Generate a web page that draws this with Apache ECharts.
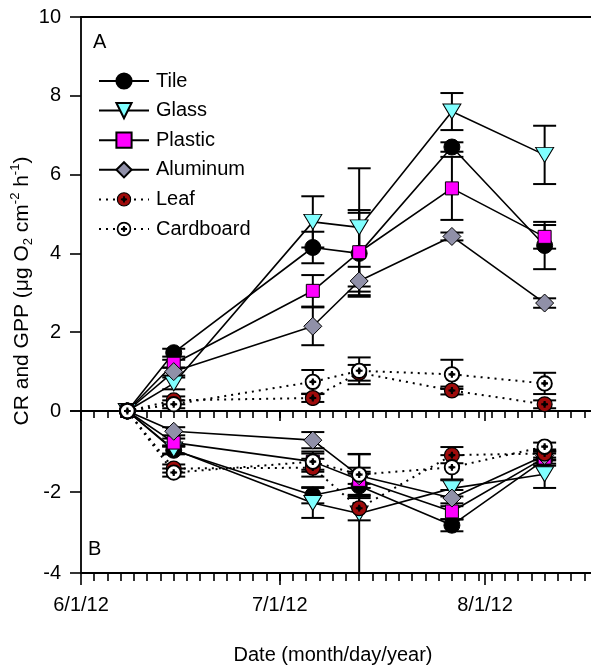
<!DOCTYPE html>
<html>
<head>
<meta charset="utf-8">
<title>CR and GPP by substrate</title>
<script src="https://cdn.jsdelivr.net/npm/echarts@6/dist/echarts.min.js"></script>
<style>
    html, body { margin: 0; padding: 0; background: #fff; }
    #container { width: 591px; height: 668px; }
</style>
</head>
<body>
<div id="container"></div>
<script type="text/javascript">
    // sampling dates and axis ticks
    var sampleDates = ['2012-06-08', '2012-06-15', '2012-07-06', '2012-07-13', '2012-07-27', '2012-08-10'];
    var tickDates = ['2012-06-01', '2012-07-01', '2012-08-01'];
    var tickLabels = ['6/1/12', '7/1/12', '8/1/12'];
    var seriesNames = ['Tile', 'Glass', 'Plastic', 'Aluminum', 'Leaf', 'Cardboard'];

    // panel A : GPP (mean, error)
    var tileGpp = [0, 1.48, 4.15, 4.0, 6.7, 4.2];
    var tileGppErr = [0, 0.1, 0.4, 1.1, 0.12, 0.6];
    var glassGpp = [0, 0.7, 4.8, 4.66, 7.6, 6.5];
    var glassGppErr = [0, 0.15, 0.65, 1.5, 0.47, 0.74];
    var plasticGpp = [0, 1.2, 3.05, 4.03, 5.65, 4.42];
    var plasticGppErr = [0, 0.1, 0.4, 1.0, 0.8, 0.3];
    var aluminumGpp = [0, 1.0, 2.15, 3.3, 4.43, 2.74];
    var aluminumGppErr = [0, 0.1, 0.48, 0.36, 0.1, 0.12];
    var leafGpp = [0, 0.27, 0.33, 0.97, 0.52, 0.17];
    var leafGppErr = [0, 0.1, 0.1, 0.2, 0.1, 0.1];
    var cardboardGpp = [0, 0.17, 0.74, 1.02, 0.93, 0.7];
    var cardboardGppErr = [0, 0.1, 0.3, 0.34, 0.37, 0.27];

    // panel B : CR (mean, error)
    var tileCr = [0, -0.97, -2.08, -1.85, -2.82, -1.2];
    var tileCrErr = [0, 0.1, 0.2, 0.3, 0.15, 0.15];
    var glassCr = [0, -0.95, -2.27, -2.53, -1.91, -1.56];
    var glassCrErr = [0, 0.1, 0.37, 1.47, 0.2, 0.34];
    var plasticCr = [0, -0.78, -1.25, -1.7, -2.48, -1.15];
    var plasticCrErr = [0, 0.1, 0.2, 0.2, 0.2, 0.15];
    var aluminumCr = [0, -0.5, -0.72, -1.6, -2.15, -1.1];
    var aluminumCrErr = [0, 0.1, 0.2, 0.2, 0.2, 0.1];
    var leafCr = [0, -1.42, -1.4, -2.4, -1.09, -1.05];
    var leafCrErr = [0, 0.1, 0.22, 0.3, 0.2, 0.1];
    var cardboardCr = [0, -1.52, -1.25, -1.57, -1.39, -0.88];
    var cardboardCrErr = [0, 0.1, 0.25, 0.5, 0.3, 0.1];

    var FONT = 'Arial, "Liberation Sans", sans-serif';

    function dayOf(s) {
        return Math.round((Date.parse(s) - Date.parse('2012-06-01')) / 86400000);
    }
    var sampleDays = sampleDates.map(dayOf);
    var tickDays = tickDates.map(dayOf);
    var minorDays = [];
    for (var d = 2; d <= 76; d += 2) minorDays.push(d);

    function svgSymbol(svg) {
        return 'image://data:image/svg+xml;charset=utf-8,' + encodeURIComponent(svg);
    }
    var leafSymbol = svgSymbol("<svg xmlns='http://www.w3.org/2000/svg' width='40' height='40' viewBox='0 0 40 40'>" +
        "<circle cx='20' cy='20' r='17.5' fill='#9e0b0b' stroke='#000' stroke-width='3'/>" +
        "<circle cx='20' cy='20' r='5' fill='#000'/>" +
        "<path d='M20 12v16M12 20h16' stroke='#000' stroke-width='5'/></svg>");
    var cardboardSymbol = svgSymbol("<svg xmlns='http://www.w3.org/2000/svg' width='40' height='40' viewBox='0 0 40 40'>" +
        "<circle cx='20' cy='20' r='17' fill='#fff' stroke='#000' stroke-width='4.5'/>" +
        "<circle cx='20' cy='20' r='5' fill='#000'/>" +
        "<path d='M20 12v16M12 20h16' stroke='#000' stroke-width='5'/></svg>");

    // marker look for each material
    var looks = {
        Tile:      { symbol: 'circle', size: 16, color: '#000', rotate: 0, dotted: false },
        Glass:     { symbol: 'triangle', size: [18, 15], color: '#80ffff', rotate: 180, dotted: false },
        Plastic:   { symbol: 'rect', size: 13, color: '#ff00ff', rotate: 0, dotted: false },
        Aluminum:  { symbol: 'diamond', size: 18, color: '#9090a8', rotate: 0, dotted: false },
        Leaf:      { symbol: leafSymbol, size: 17, color: '#9e0b0b', rotate: 0, dotted: true },
        Cardboard: { symbol: cardboardSymbol, size: 17, color: '#fff', rotate: 0, dotted: true }
    };

    function lineSeries(name, vals, xi, yi) {
        var lk = looks[name];
        return {
            name: name,
            type: 'line',
            xAxisIndex: xi,
            yAxisIndex: yi,
            data: sampleDays.map(function (d, i) { return [d, vals[i]]; }),
            symbol: lk.symbol,
            symbolSize: lk.size,
            symbolRotate: lk.rotate,
            showAllSymbol: true,
            clip: false,
            itemStyle: { color: lk.color, borderColor: '#000', borderWidth: 1, opacity: 1 },
            lineStyle: { color: '#000', width: lk.dotted ? 2 : 1.6, type: lk.dotted ? [2, 5] : 'solid' },
            emphasis: { disabled: true },
            z: 3
        };
    }

    function errorSeries(vals, errs, xi, yi) {
        return {
            type: 'custom',
            xAxisIndex: xi,
            yAxisIndex: yi,
            z: 2,
            silent: true,
            data: sampleDays.map(function (d, i) { return [d, vals[i], errs[i]]; }),
            renderItem: function (params, api) {
                var x = api.value(0), y = api.value(1), e = api.value(2);
                if (!e) return;
                var hi = api.coord([x, y + e]);
                var lo = api.coord([x, y - e]);
                var w = 11.5;
                var st = { stroke: '#000', lineWidth: 2 };
                return {
                    type: 'group',
                    children: [
                        { type: 'line', shape: { x1: hi[0], y1: hi[1], x2: lo[0], y2: lo[1] }, style: st },
                        { type: 'line', shape: { x1: hi[0] - w, y1: hi[1], x2: hi[0] + w, y2: hi[1] }, style: st },
                        { type: 'line', shape: { x1: lo[0] - w, y1: lo[1], x2: lo[0] + w, y2: lo[1] }, style: st }
                    ]
                };
            }
        };
    }

    var gpp = {
        Tile: [tileGpp, tileGppErr], Glass: [glassGpp, glassGppErr], Plastic: [plasticGpp, plasticGppErr],
        Aluminum: [aluminumGpp, aluminumGppErr], Leaf: [leafGpp, leafGppErr], Cardboard: [cardboardGpp, cardboardGppErr]
    };
    var cr = {
        Tile: [tileCr, tileCrErr], Glass: [glassCr, glassCrErr], Plastic: [plasticCr, plasticCrErr],
        Aluminum: [aluminumCr, aluminumCrErr], Leaf: [leafCr, leafCrErr], Cardboard: [cardboardCr, cardboardCrErr]
    };

    var series = [];
    seriesNames.forEach(function (n) {
        series.push(errorSeries(gpp[n][0], gpp[n][1], 0, 0));
        series.push(errorSeries(cr[n][0], cr[n][1], 3, 1));
    });
    seriesNames.forEach(function (n) {
        series.push(lineSeries(n, gpp[n][0], 0, 0));
        series.push(lineSeries(n, cr[n][0], 3, 1));
    });

    var axisLine = { show: true, onZero: false, lineStyle: { color: '#000', width: 1.8 } };
    var labelStyle = { color: '#000', fontSize: 20, fontFamily: FONT };

    function xAxis(grid, pos, ticks, len, labels, lineShow) {
        return {
            type: 'value', gridIndex: grid, position: pos, min: 0, max: 77,
            axisLine: { show: lineShow, onZero: false, lineStyle: { color: '#000', width: 1.8 } },
            axisTick: ticks ? { show: true, customValues: ticks, length: len, lineStyle: { color: '#000', width: 1.6 } } : { show: false },
            axisLabel: labels ? {
                show: true, customValues: tickDays, margin: 22, color: '#000', fontSize: 20, fontFamily: FONT,
                formatter: function (v) { var i = tickDays.indexOf(Math.round(v)); return i >= 0 ? tickLabels[i] : ''; }
            } : { show: false },
            splitLine: { show: false }
        };
    }

    var dom = document.getElementById('container');
    var myChart = echarts.init(dom, null, { renderer: 'canvas' });

    var option = {
        animation: false,
        backgroundColor: '#fff',
        grid: [
            { left: 81, top: 17, width: 517, height: 394 },
            { left: 81, top: 411, width: 517, height: 162 }
        ],
        xAxis: [
            xAxis(0, 'bottom', tickDays, 10, false, true),   // zero line, major ticks
            xAxis(0, 'bottom', minorDays, 7, false, false),  // zero line, minor ticks
            xAxis(0, 'top', null, 0, false, true),           // top frame
            xAxis(1, 'bottom', tickDays, 12, true, true),    // bottom axis, major ticks + labels
            xAxis(1, 'bottom', minorDays, 8, false, false)   // bottom axis, minor ticks
        ],
        yAxis: [
            {
                type: 'value', gridIndex: 0, min: 0, max: 10, interval: 2,
                axisLine: axisLine,
                axisTick: { show: true, length: 11, lineStyle: { color: '#000', width: 1.6 } },
                axisLabel: Object.assign({ margin: 20 }, labelStyle),
                splitLine: { show: false }
            },
            {
                type: 'value', gridIndex: 1, min: -4, max: 0, interval: 2,
                axisLine: axisLine,
                axisTick: { show: true, length: 11, lineStyle: { color: '#000', width: 1.6 } },
                axisLabel: Object.assign({ margin: 20, formatter: function (v) { return v === 0 ? '' : v; } }, labelStyle),
                splitLine: { show: false }
            }
        ],
        legend: {
            orient: 'vertical', left: 93, top: 66,
            itemWidth: 50, itemHeight: 19, itemGap: 9.6,
            selectedMode: false,
            data: seriesNames,
            textStyle: { color: '#000', fontSize: 20, fontFamily: FONT, padding: [0, 0, 0, 2] }
        },
        graphic: [
            { type: 'text', x: 93, y: 42, style: { text: 'A', fontSize: 20, fontFamily: FONT, fill: '#000', verticalAlign: 'middle' } },
            { type: 'text', x: 88, y: 549, style: { text: 'B', fontSize: 20, fontFamily: FONT, fill: '#000', verticalAlign: 'middle' } },
            { type: 'text', x: 333, y: 655, style: { text: 'Date (month/day/year)', fontSize: 20, fontFamily: FONT, fill: '#000', align: 'center', verticalAlign: 'middle' } },
            {
                type: 'text', x: 22, y: 291, rotation: Math.PI / 2,
                style: {
                    text: 'CR and GPP (μg O{sub|2} cm{sup|-2} h{sup|-1})',
                    fontSize: 21, fontFamily: FONT, fill: '#000', lineHeight: 26,
                    align: 'center', verticalAlign: 'middle',
                    rich: {
                        sub: { fontSize: 13, fontFamily: FONT, fill: '#000', verticalAlign: 'bottom', lineHeight: 26 },
                        sup: { fontSize: 13, fontFamily: FONT, fill: '#000', verticalAlign: 'top', lineHeight: 26 }
                    }
                }
            }
        ],
        series: series
    };

    if (option && typeof option === 'object') {
        myChart.setOption(option);
    }
</script>
</body>
</html>
